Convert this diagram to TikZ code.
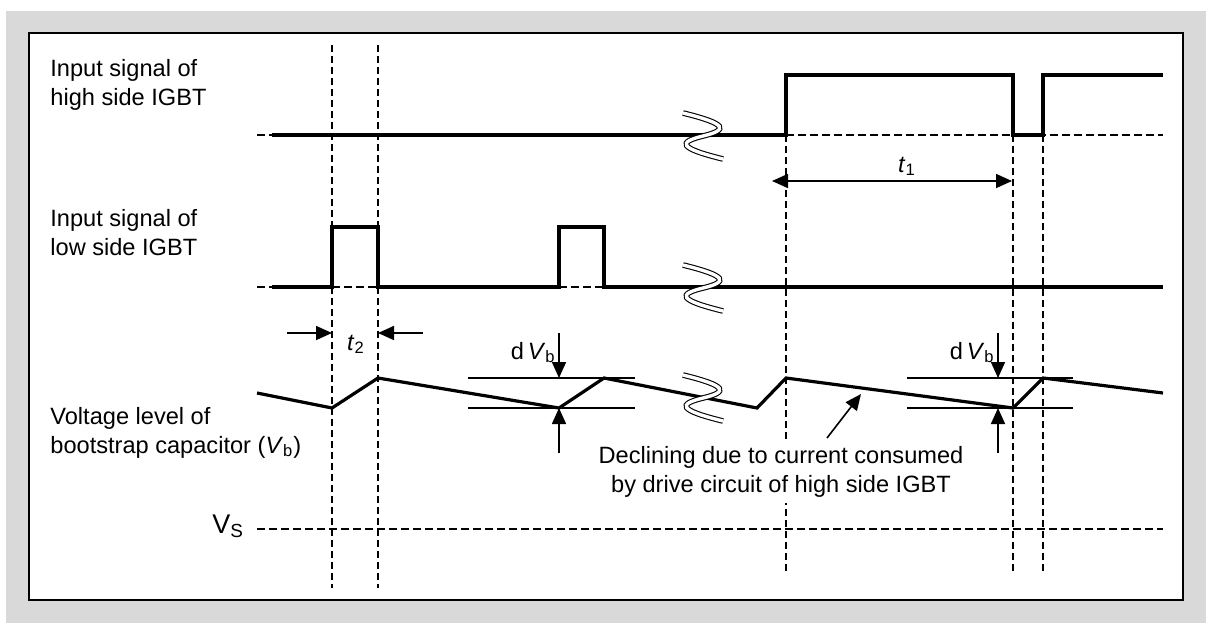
\documentclass[tikz,border=0pt]{standalone}
\usepackage{fontspec}
\setmainfont{Liberation Sans}
\usetikzlibrary{arrows.meta}
\definecolor{panel}{HTML}{D9D9D9}
\tikzset{
    signal/.style={line width=1.6pt, line join=miter},
    guide/.style={line width=0.7pt, dash pattern=on 3.3pt off 2.2pt},
    refline/.style={line width=0.7pt, dash pattern=on 4pt off 2pt},
    vbline/.style={line width=0.65pt},
    measure/.style={line width=0.8pt},
    lbl/.style={inner sep=0pt, font=\fontsize{11.8}{14.5}\selectfont},
    zigbreak/.pic={
        \draw[line width=0.55pt, double=white, double distance=1.7pt]
            (-20,-23) .. controls (25,-12) and (25,-6) .. (0,0)
            .. controls (-25,6) and (-25,12) .. (20,23);
    }
}

\begin{document}
\begin{tikzpicture}[x=0.5pt, y=-0.5pt, >={Triangle[length=8pt, width=7pt]}]
	\fill[white] (0,0) rectangle (1206,623);
	\fill[panel] (6,11) rectangle (1206,623);
	\draw[fill=white, line width=0.6pt] (29,33) rectangle (1183,600);
	
	% labels on the left
	\node[lbl, anchor=base west, align=left] (hs) at (50,105) {Input signal of\\high side IGBT};
	\node[lbl, anchor=base west, align=left] (ls) at (50,255) {Input signal of\\low side IGBT};
	\node[lbl, anchor=base west, align=left] (vb) at (50,453) {Voltage level of\\bootstrap capacitor (\textit{V}\textsubscript{b})};
	\node[lbl, anchor=base west, font=\fontsize{13.5}{16}\selectfont] (vs) at (212,533) {V\textsubscript{S}};
	
	% dashed guides
	\foreach \x/\top/\bot in {332/45/588, 378/45/588, 786/135/573, 1013/135/573, 1043/135/573}
		\draw[guide] (\x,\top) -- (\x,\bot);
	
	\foreach \a/\b/\y in {257/272/135, 786/1163/135, 257/272/287, 332/378/287, 559/604/287, 257/1163/529}
		\draw[refline] (\a,\y) -- (\b,\y);
	
	% waveforms
	\draw[signal] (272,135) -- (786,135) -- (786,75) -- (1013,75) -- (1013,135)
		-- (1043,135) -- (1043,75) -- (1163,75);
	\draw[signal] (272,287) -- (332,287) |- (378,227) -- (378,287) -- (559,287)
		-- (559,227) -- (604,227) -- (604,287) -- (1163,287);
	\draw[signal] (257,393) -- (332,408) -- (378,378) -- (559,408) -- (604,378)
		-- (757,408) -- (786,378) -- (1013,408) -- (1043,378) -- (1163,393);
	
	\foreach \y in {136, 288, 398}
		\pic at (703,\y) {zigbreak};
	
	% dV_b levels
	\foreach \a/\b in {468/635, 907/1073} {
		\draw[vbline] (\a,378) -- (\b,378);
		\draw[vbline] (\a,408) -- (\b,408);
	}
	
	% t1
	\coordinate (t1l) at (772,181);
	\coordinate (t1r) at (1012,181);
	\draw[measure, <->] (t1l) -- (t1r);
	\node[lbl, anchor=base] (t1) at (907,172) {\textit{t}\textsubscript{1}};
	
	% t2
	\coordinate (t2a) at (287,333);
	\coordinate (t2b) at (332,333);
	\coordinate (t2c) at (423,333);
	\coordinate (t2d) at (378,333);
	\draw[measure, ->] (t2a) -- (t2b);
	\draw[measure, ->] (t2c) -- (t2d);
	\node[lbl, anchor=base] (t2) at (356,350) {\textit{t}\textsubscript{2}};
	
	% dV_b arrows
	\foreach \x/\n in {559/1, 998/2} {
		\coordinate (up\n) at (\x,333);
		\coordinate (hi\n) at (\x,378);
		\coordinate (lo\n) at (\x,408);
		\coordinate (dn\n) at (\x,453);
		\draw[measure, ->] (up\n) -- (hi\n);
		\draw[measure, ->] (dn\n) -- (lo\n);
	}
	\node[lbl, anchor=base east] (dv1) at (556,359) {d\,\textit{V}\textsubscript{b}};
	\node[lbl, anchor=base east] (dv2) at (995,359) {d\,\textit{V}\textsubscript{b}};
	
	% note
	\node[lbl, anchor=base, align=center, fill=white, inner ysep=3pt] (decl) at (781,492) {Declining due to current consumed\\by drive circuit of high side IGBT};
	\coordinate (ntail) at (827,438);
	\coordinate (ntip) at (861,394);
	\draw[measure, ->] (ntail) -- (ntip);
\end{tikzpicture}
\end{document}
